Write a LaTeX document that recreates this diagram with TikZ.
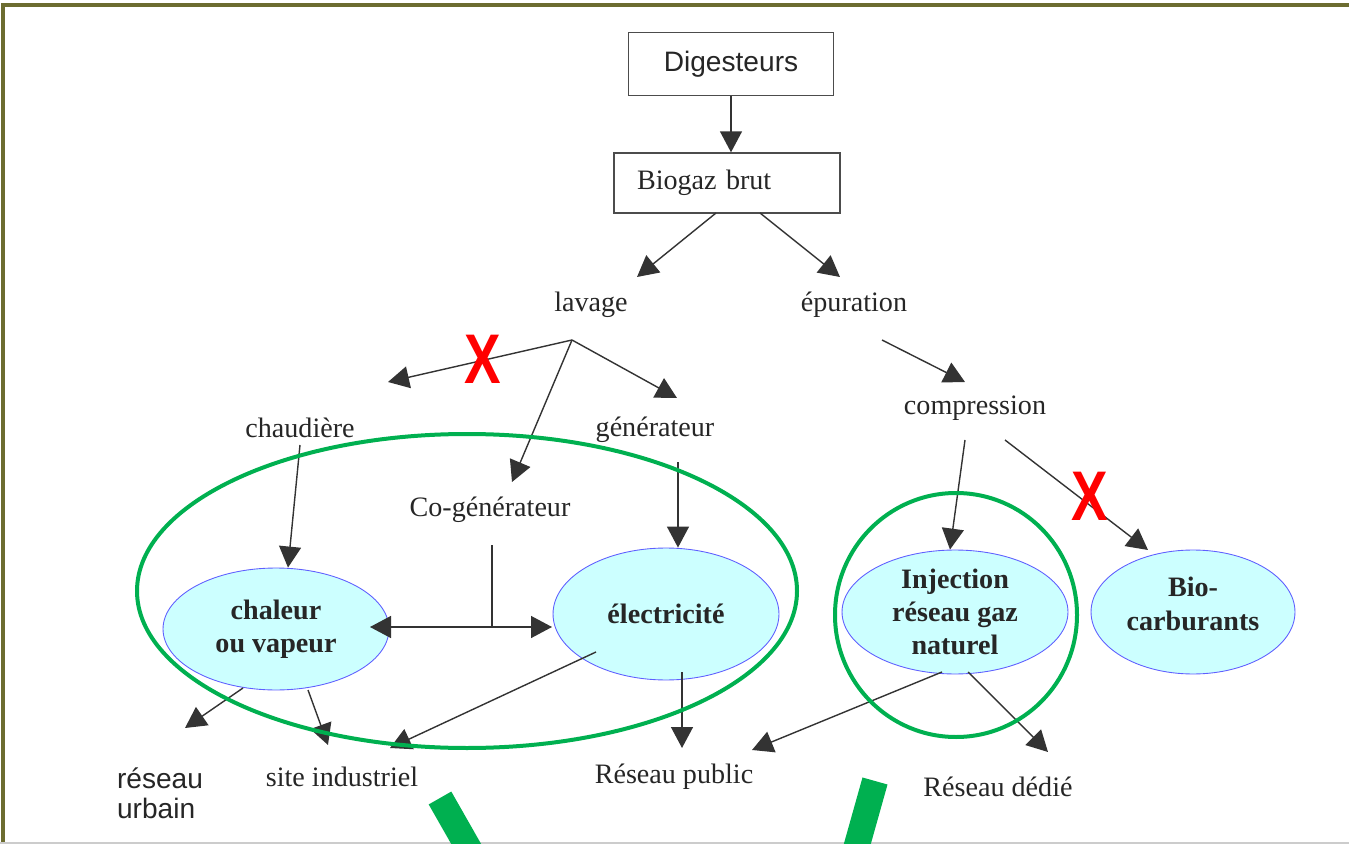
\documentclass[tikz,border=0pt]{standalone}
\usepackage{fontspec}
\setmainfont{Liberation Serif}
\setsansfont{Liberation Sans}
\usetikzlibrary{arrows.meta,shapes.geometric,calc}
\definecolor{bullecyan}{RGB}{204,255,255}
\definecolor{bulleblue}{RGB}{95,95,255}
\definecolor{vertmarque}{RGB}{0,176,80}
\definecolor{cadreolive}{RGB}{108,108,48}

\begin{document}
\begin{tikzpicture}[x=0.02cm, y=-0.02cm,
  txt/.style={font=\fontsize{16}{19}\selectfont, text=black!85, inner sep=0pt},
  boite/.style={txt, draw=black!70, line width=0.8pt},
  bulle/.style={ellipse, draw=bulleblue, fill=bullecyan, line width=0.5pt, inner sep=-4pt, align=center,
    font=\fontsize{16}{19}\selectfont\bfseries, text=black!85},
  fl/.style={-{Triangle[length=0.42cm,width=0.44cm]}, line width=0.8pt, black!80},
  croix/.style={text=red, inner sep=0pt, font=\sffamily\bfseries\fontsize{40}{40}\selectfont},
  marque/.style={draw=vertmarque, line width=0.08cm}]
\useasboundingbox (0,0) rectangle (1349,844);
\draw[cadreolive, line width=0.07cm] (3,844) -- (3,5) -- (1349,5);
\draw[black!20, line width=0.04cm] (0,843) -- (1349,843);

\node[boite, minimum width=4.1cm, minimum height=1.26cm, font=\sffamily\fontsize{16}{19}\selectfont] (dig) at (731,64) {Digesteurs};
\node[boite, minimum height=1.2cm, text width=3.6cm, inner xsep=0.46cm, align=left] (bio) at (727,183) {Biogaz brut};
\node[txt] (lavage) at (591,305) {lavage};
\node[txt] (epur) at (854,305) {épuration};
\node[txt] (chaud) at (300,428) {chaudière};
\node[txt] (gen) at (655,430) {générateur};
\node[txt] (comp) at (975,408) {compression};
\node[txt] (cogen) at (490,510) {Co-générateur};
\node[bulle, minimum width=4.52cm, minimum height=2.44cm] (chaleur) at (276,629) {chaleur\\ou vapeur};
\node[bulle, minimum width=4.52cm, minimum height=2.64cm] (elec) at (666,614) {électricité};
\node[bulle, minimum width=4.52cm, minimum height=2.48cm] (inj) at (955,612) {Injection\\réseau gaz\\naturel};
\node[bulle, minimum width=4.08cm, minimum height=2.48cm] (biocarb) at (1193,612) {Bio-\\carburants\\[-9.5pt]\mbox{}};
\node[txt, align=left, font=\sffamily\fontsize{16}{17}\selectfont] (urbain) at (160,793) {réseau\\urbain};
\node[txt] (site) at (342,777) {site industriel};
\node[txt] (public) at (674,777) {Réseau public};
\node[txt] (dedie) at (998,787) {Réseau dédié};

\coordinate (lavfork) at ($(lavage)+(-19,35)$);
\coordinate (cojoin) at ($(cogen)+(2,117)$);

\draw[fl] (dig.south) -- (dig.south |- bio.north);
\draw[fl] ($(bio)+(-11,30)$) -- ($(lavage)+(46,-28)$);
\draw[fl] ($(bio)+(33,30)$) -- ($(epur)+(-14,-28)$);
\draw[fl] (lavfork) -- ($(chaud)+(88,-46)$);
\draw[fl] (lavfork) -- ($(cogen)+(22,-28)$);
\draw[fl] (lavfork) -- ($(gen)+(22,-32)$);
\draw[fl] ($(epur)+(28,35)$) -- ($(comp)+(-10,-26)$);
\draw[fl] ($(chaud)+(0,17)$) -- ($(chaleur.north)+(12,0)$);
\draw[fl] ($(gen)+(23,32)$) -- ($(elec.north)+(12,0)$);
\draw[fl, -] ($(cogen)+(2,35)$) -- (cojoin);
\draw[fl] (cojoin) -- ($(chaleur)+(94,-2)$);
\draw[fl] (cojoin) -- ($(elec)+(-114,13)$);
\draw[fl] ($(comp)+(-10,32)$) -- ($(inj.north)+(-5,0)$);
\draw[fl] ($(comp)+(30,32)$) -- ($(biocarb)+(-45,-62)$);
\draw[fl] ($(chaleur)+(-33,59)$) -- ($(urbain)+(25,-65)$);
\draw[fl] ($(chaleur)+(32,61)$) -- ($(site)+(-14,-32)$);
\draw[fl] ($(elec)+(-70,38)$) -- ($(site)+(48,-29)$);
\draw[fl] ($(elec)+(16,58)$) -- ($(public)+(8,-29)$);
\draw[fl] ($(inj)+(-13,60)$) -- ($(public)+(78,-27)$);
\draw[fl] ($(inj)+(13,60)$) -- ($(dedie)+(50,-35)$);

% annotations vertes
\draw[marque] (467,591) ellipse [x radius=330, y radius=157];
\draw[marque] (956,615) ellipse [x radius=121, y radius=122];
\begin{scope}
\clip (0,0) rectangle (1349,844);
\draw[vertmarque, line width=0.52cm] (440,798) -- (481,870);
\draw[vertmarque, line width=0.52cm] (875,781) -- (850,870);
\end{scope}

\node[croix] (xlav) at (483,359) {\scalebox{0.78}[1]{X}};
\node[croix] (xcomp) at (1090,496) {\scalebox{0.78}[1]{X}};
\end{tikzpicture}
\end{document}
